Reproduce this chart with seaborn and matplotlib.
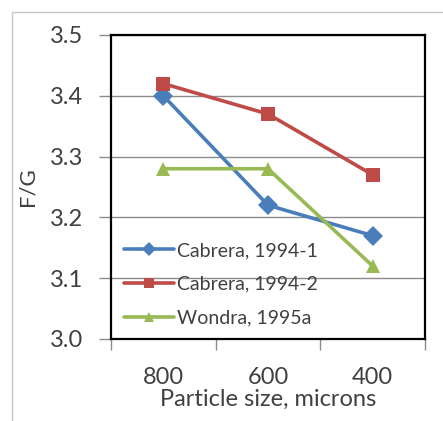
import pandas as pd
import matplotlib.pyplot as plt
import seaborn as sns
from matplotlib.patches import Rectangle
from matplotlib.ticker import FixedLocator, NullFormatter

# Data
particle_sizes = ['800', '600', '400']
cabrera_1 = [3.40, 3.22, 3.17]
cabrera_2 = [3.42, 3.37, 3.27]
wondra = [3.28, 3.28, 3.12]
series_names = ['Cabrera, 1994-1', 'Cabrera, 1994-2', 'Wondra, 1995a']
series_colors = ['#4a7ebb', '#be4b48', '#98b954']
series_markers = ['D', 's', '^']
y_ticks = [3.0, 3.1, 3.2, 3.3, 3.4, 3.5]

df = pd.DataFrame({
    'size': particle_sizes * 3,
    'fg': cabrera_1 + cabrera_2 + wondra,
    'series': [n for n in series_names for _ in particle_sizes],
})

sns.set_style('white')
plt.rcParams['font.family'] = ['Lato', 'DejaVu Sans']
text_color = '#404040'

fig = plt.figure(figsize=(4.43, 4.21), dpi=100)
ax = fig.add_axes([0.2506, 0.1948, 0.7088, 0.7221])

# outer light frame of the chart area
fig.patches.append(Rectangle((12 / 443, -0.1), 1.1, 1 - 12 / 421 + 0.1,
                             transform=fig.transFigure, fill=False,
                             edgecolor='#c8c8c8', linewidth=1.0))

sns.lineplot(data=df, x='size', y='fg', hue='series', style='series',
             palette=dict(zip(series_names, series_colors)),
             markers=dict(zip(series_names, series_markers)),
             dashes=False, linewidth=2.6, markersize=10,
             markeredgewidth=0, ax=ax, sort=False)

ax.set_xlim(-0.5, 2.5)
ax.set_ylim(3.0, 3.5)
ax.set_yticks(y_ticks)
ax.set_yticklabels([f'{v:.1f}' for v in y_ticks])
ax.grid(axis='y', color='#8c8c8c', linewidth=1.0)
ax.set_axisbelow(True)

# category boundaries carry the tick marks, labels sit at the centres
ax.xaxis.set_major_locator(FixedLocator([-0.5, 0.5, 1.5, 2.5]))
ax.xaxis.set_major_formatter(NullFormatter())
ax.xaxis.set_minor_locator(FixedLocator([0, 1, 2]))
ax.set_xticklabels(particle_sizes, minor=True)
ax.tick_params(axis='x', which='major', bottom=True, length=8, width=1, color='#8c8c8c')
ax.tick_params(axis='x', which='minor', bottom=True, length=0, pad=20, labelsize=17,
               labelcolor=text_color)
ax.tick_params(axis='y', left=True, length=9, width=1, color='#8c8c8c', pad=11,
               labelsize=17, labelcolor=text_color)

for sp in ax.spines.values():
    sp.set_color('black')
    sp.set_linewidth(1.6)

ax.set_xlabel('Particle size, microns', fontsize=17, color=text_color, labelpad=1)
ax.set_ylabel('F/G', fontsize=16, color=text_color, labelpad=9)

leg = ax.legend(loc='lower left', bbox_to_anchor=(0.0, 0.0), frameon=False,
                fontsize=14, handlelength=2.6, handletextpad=0.15,
                labelspacing=0.85, borderaxespad=0.25, markerscale=0.75)
for t in leg.get_texts():
    t.set_color(text_color)

fig.savefig('out.png', dpi=100)
